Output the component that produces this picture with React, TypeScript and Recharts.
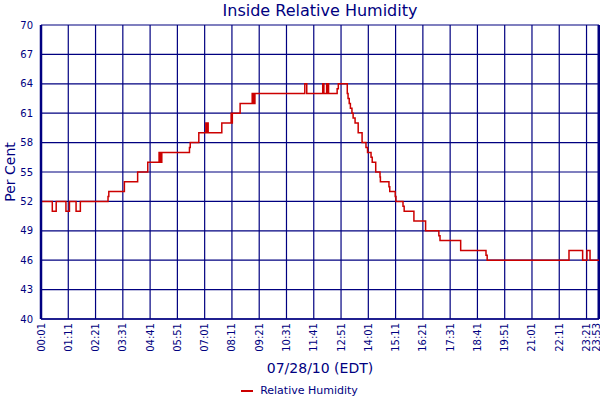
import {
  LineChart,
  Line,
  XAxis,
  YAxis,
  CartesianGrid,
  Legend,
  ReferenceLine,
} from "recharts";

const NAVY = "#000080";
const RED = "#CC0000";
const FONT = "'DejaVu Sans', Verdana, sans-serif";

// readings where the value changes (step chart)
const readingTimes = [
  "00:01", "00:30", "00:40", "01:05", "01:14", "01:31", "01:42", "02:53",
  "02:55", "03:35", "04:09", "04:35", "05:04", "05:06", "05:08", "05:09",
  "05:11", "06:22", "06:24", "06:46", "07:04", "07:06", "07:07", "07:10",
  "07:45", "08:09", "08:11", "08:12", "08:32", "09:03", "09:05", "09:06",
  "09:08", "09:10", "11:18", "11:23", "12:04", "12:07", "12:14", "12:16",
  "12:17", "12:19", "12:41", "12:44", "13:07", "13:09", "13:12", "13:15",
  "13:19", "13:22", "13:27", "13:35", "13:45", "13:55", "13:59", "14:08",
  "14:11", "14:20", "14:31", "14:32", "14:54", "14:56", "15:10", "15:12",
  "15:30", "15:33", "15:58", "16:28", "17:02", "17:05", "17:58", "19:03",
  "19:06", "22:36", "23:11", "23:22", "23:30", "23:53",
];

const humidity = [
  52, 51, 52, 51, 52, 51, 52, 52.5,
  53, 54, 55, 56, 57, 56, 57, 56,
  57, 57.5, 58, 59, 60, 59, 60, 59,
  60, 61, 60, 61, 62, 63, 62, 63,
  62, 63, 64, 63, 64, 63, 64, 63,
  64, 63, 63.5, 64, 63, 62.5, 62, 61.5,
  61, 60.5, 60, 59, 58, 57.5, 57, 56.5,
  56, 55, 54.5, 54, 53.5, 53, 52.5, 52,
  51.5, 51, 50, 49, 48.5, 48, 47, 46.5,
  46, 47, 46, 47, 46, 46,
];

const xTickTimes = [
  "00:01", "01:11", "02:21", "03:31", "04:41", "05:51", "07:01", "08:11",
  "09:21", "10:31", "11:41", "12:51", "14:01", "15:11", "16:21", "17:31",
  "18:41", "19:51", "21:01", "22:11", "23:21", "23:53",
];

const yTicks = [40, 43, 46, 49, 52, 55, 58, 61, 64, 67, 70];

const toMinutes = (t: string) => {
  const [h, m] = t.split(":").map(Number);
  return h * 60 + m;
};

const toClock = (v: number) =>
  `${String(Math.floor(v / 60)).padStart(2, "0")}:${String(v % 60).padStart(2, "0")}`;

const data = readingTimes.map((t, i) => ({ minute: toMinutes(t), rh: humidity[i] }));
const xTicks = xTickTimes.map(toMinutes);

function TimeTick(props: any) {
  const { y, payload } = props;
  // keep the last label inside the picture
  const x = Math.min(props.x, 596);
  return (
    <text
      x={x}
      y={y}
      dy="0.35em"
      transform={`rotate(-90, ${x}, ${y})`}
      textAnchor="end"
      fill={NAVY}
      fontSize={10}
      fontFamily={FONT}
    >
      {toClock(payload.value)}
    </text>
  );
}

function LegendRow() {
  return (
    <div
      style={{
        display: "flex",
        justifyContent: "center",
        alignItems: "center",
        height: 21,
        paddingTop: 1,
        fontFamily: FONT,
        fontSize: 11,
        color: NAVY,
      }}
    >
      <svg width={16} height={4} style={{ marginRight: 3 }}>
        <line x1={0} y1={2} x2={12} y2={2} stroke={RED} strokeWidth={2} />
      </svg>
      <span>Relative Humidity</span>
    </div>
  );
}

export default function App() {
  return (
    <div style={{ position: "absolute", left: 0, top: 0, background: "#fff" }}>
      <LineChart
        width={600}
        height={400}
        data={data}
        margin={{ top: 25, right: 1, bottom: 0, left: 0 }}
        style={{ fontFamily: FONT }}
      >
        <CartesianGrid stroke={NAVY} strokeWidth={1.2} />
        <XAxis
          dataKey="minute"
          type="number"
          domain={[1, 1433]}
          ticks={xTicks}
          interval={0}
          height={60}
          tickLine={false}
          tickSize={0}
          tickMargin={4}
          axisLine={{ stroke: NAVY, strokeWidth: 1.5 }}
          tick={<TimeTick />}
        />
        <YAxis
          type="number"
          domain={[40, 70]}
          ticks={yTicks}
          interval={0}
          width={41}
          tickLine={false}
          axisLine={{ stroke: NAVY, strokeWidth: 2.5 }}
          tick={{ fill: NAVY, fontSize: 10, fontFamily: FONT }}
        />
        <ReferenceLine x={1433} stroke={NAVY} strokeWidth={3} />
        <Line
          type="stepAfter"
          dataKey="rh"
          name="Relative Humidity"
          stroke={RED}
          strokeWidth={1.5}
          dot={false}
          activeDot={false}
          isAnimationActive={false}
        />
        <Legend verticalAlign="bottom" height={21} content={<LegendRow />} />
        <text x={320} y={16} textAnchor="middle" fill={NAVY} fontSize={16} fontFamily={FONT}>
          Inside Relative Humidity
        </text>
        <text x={320} y={373} textAnchor="middle" fill={NAVY} fontSize={14} fontFamily={FONT}>
          07/28/10 (EDT)
        </text>
        <text
          x={0}
          y={0}
          transform="translate(15, 172) rotate(-90)"
          textAnchor="middle"
          fill={NAVY}
          fontSize={14}
          fontFamily={FONT}
        >
          Per Cent
        </text>
      </LineChart>
    </div>
  );
}
